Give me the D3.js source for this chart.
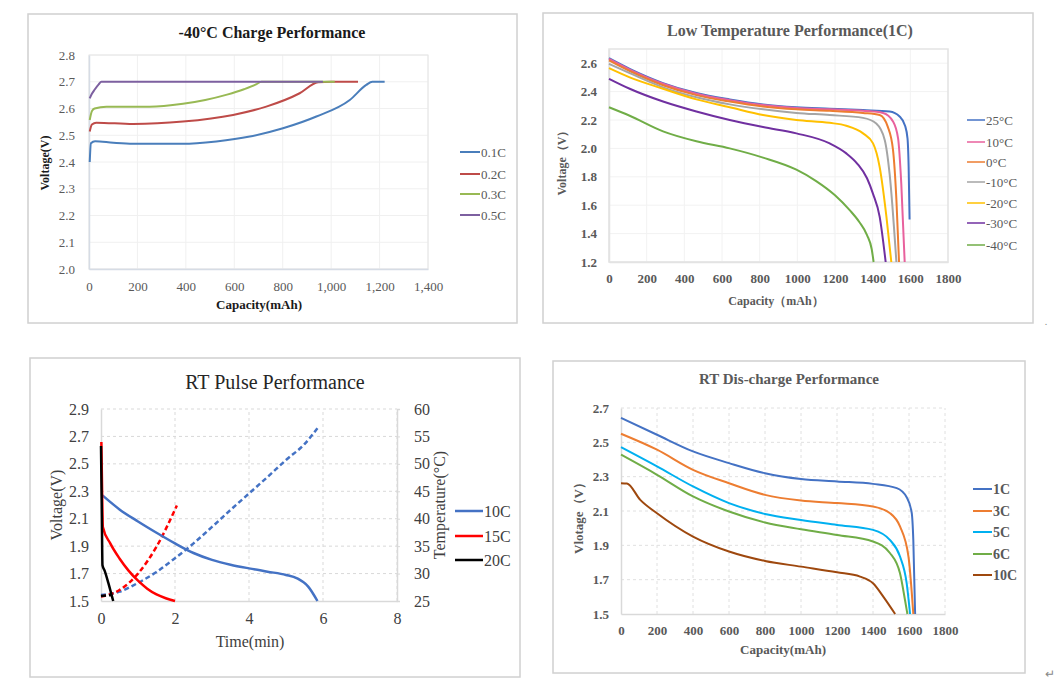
<!DOCTYPE html>
<html><head><meta charset="utf-8">
<script src="https://cdn.jsdelivr.net/npm/d3@7"></script>
<style>
html,body{margin:0;padding:0;background:#fff;}
svg{display:block;font-family:"Liberation Serif","Times New Roman",serif;}
</style></head>
<body>
<svg id="chart" width="1060" height="691"></svg>
<script>
// ---------- Panel 1: -40°C Charge Performance ----------
const p1Names = ["0.1C","0.2C","0.3C","0.5C"];
const p1Colors = ["#4a7ebb","#be4b48","#98b954","#7d60a0"];
const p1XTicks = [0,200,400,600,800,1000,1200,1400];
const p1YTicks = [2.0,2.1,2.2,2.3,2.4,2.5,2.6,2.7,2.8];
const charge01C = [[3,2.40],[8,2.47],[25,2.478],[100,2.472],[182,2.468],[388,2.468],[526,2.477],[664,2.495],[801,2.526],[939,2.57],[1077,2.632],[1145,2.688],[1170,2.70],[1221,2.70]];
const charge02C = [[3,2.514],[12,2.54],[30,2.547],[182,2.542],[388,2.551],[595,2.576],[732,2.607],[870,2.657],[946,2.698],[1000,2.70],[1111,2.70]];
const charge03C = [[3,2.557],[12,2.59],[23,2.60],[72,2.607],[250,2.607],[388,2.618],[480,2.632],[570,2.652],[640,2.672],[690,2.69],[712,2.70],[850,2.70],[1015,2.70]];
const charge05C = [[3,2.638],[12,2.655],[23,2.67],[40,2.69],[51,2.70],[300,2.70],[966,2.70]];
const p1Series = [charge01C,charge02C,charge03C,charge05C];

// ---------- Panel 2: Low Temperature Performance(1C) ----------
const p2Names = ["25°C","10°C","0°C","-10°C","-20°C","-30°C","-40°C"];
const p2Colors = ["#4472c4","#e8619d","#ed7d31","#a5a5a5","#ffc000","#7030a0","#70ad47"];
const p2XTicks = [0,200,400,600,800,1000,1200,1400,1600,1800];
const p2YTicks = [1.2,1.4,1.6,1.8,2.0,2.2,2.4,2.6];
const lt25 = [[0,2.635],[110,2.56],[287,2.46],[464,2.39],[641,2.345],[818,2.31],[995,2.29],[1172,2.28],[1349,2.27],[1490,2.26],[1543,2.225],[1572,2.16],[1585,2.07],[1591,1.87],[1596,1.5]];
const lt10 = [[0,2.63],[110,2.555],[287,2.455],[464,2.385],[641,2.34],[818,2.305],[995,2.285],[1172,2.275],[1349,2.265],[1455,2.25],[1508,2.19],[1535,2.07],[1552,1.75],[1570,1.2]];
const lt0 = [[0,2.62],[110,2.545],[287,2.445],[464,2.375],[641,2.33],[818,2.295],[995,2.275],[1172,2.265],[1349,2.25],[1437,2.235],[1481,2.15],[1508,1.99],[1526,1.64],[1540,1.2]];
const ltm10 = [[0,2.595],[110,2.53],[287,2.43],[464,2.36],[641,2.31],[818,2.275],[995,2.25],[1172,2.235],[1349,2.215],[1419,2.175],[1464,2.06],[1490,1.82],[1526,1.2]];
const ltm20 = [[0,2.565],[110,2.50],[287,2.42],[464,2.345],[641,2.29],[818,2.235],[995,2.2],[1172,2.18],[1260,2.16],[1349,2.106],[1402,2.035],[1437,1.87],[1473,1.52],[1499,1.2]];
const ltm30 = [[0,2.49],[110,2.42],[287,2.33],[464,2.26],[641,2.2],[818,2.15],[995,2.106],[1172,2.035],[1260,1.965],[1320,1.89],[1370,1.79],[1402,1.68],[1437,1.52],[1469,1.2]];
const ltm40 = [[0,2.29],[110,2.23],[287,2.12],[464,2.05],[641,2.0],[818,1.935],[995,1.85],[1100,1.77],[1200,1.67],[1278,1.565],[1330,1.48],[1370,1.39],[1395,1.29],[1405,1.2]];
const p2Series = [lt25,lt10,lt0,ltm10,ltm20,ltm30,ltm40];

// ---------- Panel 3: RT Pulse Performance ----------
const p3Names = ["10C","15C","20C"];
const p3Colors = ["#4472c4","#ff0000","#000000"];
const p3XTicks = [0,2,4,6,8];
const p3YTicks = [1.5,1.7,1.9,2.1,2.3,2.5,2.7,2.9];
const p3RTicks = [25,30,35,40,45,50,55,60];
const pulse10CV = [[0.04,2.27],[0.5,2.168],[1,2.08],[1.5,1.998],[2,1.92],[2.5,1.85],[3,1.80],[3.5,1.765],[4,1.738],[4.5,1.714],[5,1.69],[5.3,1.665],[5.6,1.605],[5.85,1.5]];
const pulse15CV = [[0.01,2.66],[0.03,2.3],[0.05,2.04],[0.25,1.92],[0.5,1.81],[0.75,1.72],[1,1.648],[1.25,1.59],[1.5,1.548],[1.75,1.52],[2.0,1.5]];
const pulse20CV = [[0.0,2.63],[0.02,2.2],[0.04,1.76],[0.1,1.72],[0.2,1.63],[0.3,1.53],[0.33,1.5]];
const pulse10CT = [[0,26.1],[0.5,26.7],[1,28.3],[1.5,30.3],[2,32.8],[2.5,35.5],[3,38.5],[3.5,41.6],[4,44.6],[4.5,47.6],[5,50.7],[5.5,53.6],[5.85,56.5]];
const pulse15CT = [[0,25.8],[0.5,27.0],[1,30.0],[1.5,34.9],[2.05,42.4]];
const pulse20CT = [[0,25.9],[0.15,26.0],[0.3,26.1]];
const p3VSeries = [pulse10CV,pulse15CV,pulse20CV];
const p3TSeries = [pulse10CT,pulse15CT,pulse20CT];

// ---------- Panel 4: RT Dis-charge Performance ----------
const p4Names = ["1C","3C","5C","6C","10C"];
const p4Colors = ["#4472c4","#ed7d31","#00b0f0","#70ad47","#9e480e"];
const p4XTicks = [0,200,400,600,800,1000,1200,1400,1600,1800];
const p4YTicks = [1.5,1.7,1.9,2.1,2.3,2.5,2.7];
const rt1C = [[0,2.642],[200,2.544],[400,2.447],[600,2.379],[800,2.32],[1000,2.286],[1200,2.272],[1400,2.258],[1532,2.233],[1587,2.18],[1615,2.09],[1624,1.93],[1634,1.5]];
const rt3C = [[0,2.55],[200,2.457],[400,2.34],[600,2.262],[800,2.194],[1000,2.161],[1200,2.146],[1400,2.126],[1495,2.087],[1550,2.01],[1597,1.835],[1624,1.5]];
const rt5C = [[0,2.472],[200,2.36],[400,2.243],[600,2.146],[800,2.083],[1000,2.048],[1200,2.019],[1400,1.99],[1495,1.93],[1550,1.835],[1587,1.68],[1606,1.5]];
const rt6C = [[0,2.428],[200,2.311],[400,2.185],[600,2.097],[800,2.033],[1000,1.994],[1200,1.96],[1400,1.922],[1495,1.854],[1550,1.737],[1578,1.58],[1591,1.5]];
const rt10C = [[0,2.262],[33,2.26],[107,2.165],[200,2.087],[400,1.951],[600,1.864],[800,1.809],[1000,1.776],[1200,1.743],[1328,1.718],[1400,1.679],[1458,1.60],[1523,1.5]];
const p4Series = [rt1C,rt3C,rt5C,rt6C,rt10C];

// ================= drawing =================
const svg = d3.select("#chart");
const GRAY = "#595959";

function box(x0,y0,x1,y1){
  svg.append("rect").attr("x",x0).attr("y",y0).attr("width",x1-x0).attr("height",y1-y0)
    .attr("fill","#fff").attr("stroke","#d0d0d0").attr("stroke-width",1.5);
}
function text(x,y,s,opts){
  const t = svg.append("text").attr("x",x).attr("y",y).text(s)
    .attr("font-family","Liberation Serif, serif")
    .attr("font-size",opts.size||13).attr("fill",opts.color||GRAY)
    .attr("font-weight",opts.bold?"bold":"normal")
    .attr("text-anchor",opts.anchor||"middle");
  if(opts.rotate) t.attr("transform",`rotate(-90,${x},${y})`);
  return t;
}
function grid(x,y,xt,yt,style){
  const g = svg.append("g");
  g.selectAll(".gx").data(xt).join("line")
    .attr("x1",d=>x(d)).attr("x2",d=>x(d)).attr("y1",y.range()[0]).attr("y2",y.range()[1])
    .attr("stroke",style.color).attr("stroke-width",1).attr("stroke-dasharray",style.dash||null);
  g.selectAll(".gy").data(yt).join("line")
    .attr("y1",d=>y(d)).attr("y2",d=>y(d)).attr("x1",x.range()[0]).attr("x2",x.range()[1])
    .attr("stroke",style.color).attr("stroke-width",1).attr("stroke-dasharray",style.dash||null);
}
function axes(x,y,xt,yt,fmtX,fmtY,o){
  const gx = svg.append("g").attr("transform",`translate(0,${y.range()[0]})`)
    .call(d3.axisBottom(x).tickValues(xt).tickFormat(fmtX).tickSize(0).tickPadding(o.padX));
  const gy = svg.append("g").attr("transform",`translate(${x.range()[0]},0)`)
    .call(d3.axisLeft(y).tickValues(yt).tickFormat(fmtY).tickSize(0).tickPadding(o.padY));
  [gx,gy].forEach(g=>{
    g.attr("font-family","Liberation Serif, serif");
    g.select(".domain").attr("stroke",o.axisColor).attr("stroke-width",1.5);
    g.selectAll("text").attr("font-family","Liberation Serif, serif").attr("font-size",o.size)
      .attr("fill",o.color).attr("font-weight",o.bold?"bold":"normal");
  });
}
function lines(x,y,series,colors,w,dash){
  const line = d3.line().x(d=>x(d[0])).y(d=>y(d[1])).curve(d3.curveMonotoneX);
  svg.append("g").selectAll("path").data(series).join("path")
    .attr("d",line).attr("fill","none").attr("stroke",(d,i)=>colors[i])
    .attr("stroke-width",w).attr("stroke-dasharray",dash||null).attr("stroke-linejoin","round");
}
function legend(names,colors,x0,x1,ys,o){
  names.forEach((n,i)=>{
    svg.append("line").attr("x1",x0).attr("x2",x1).attr("y1",ys[i]).attr("y2",ys[i])
      .attr("stroke",colors[i]).attr("stroke-width",o.w);
    text(x1+1,ys[i]+o.size*0.35,n,{size:o.size,color:o.color,bold:o.bold,anchor:"start"});
  });
}

// ---- Panel 1 ----
box(28,14,517,323);
const x1 = d3.scaleLinear().domain([0,1400]).range([89,428]);
const y1 = d3.scaleLinear().domain([2.0,2.8]).range([269,55]);
grid(x1,y1,p1XTicks,p1YTicks,{color:"#f0f0f0"});
svg.append("rect").attr("x",89).attr("y",55).attr("width",339).attr("height",214).attr("fill","none").attr("stroke","#e6e6e6");
axes(x1,y1,p1XTicks,p1YTicks,d3.format(",d"),d3.format(".1f"),{padX:13,padY:14,size:13,color:GRAY,bold:false,axisColor:"#d6dce5"});
lines(x1,y1,p1Series,p1Colors,2);
text(272,38,"-40°C Charge Performance",{size:16,bold:true,color:"#1a1a1a"});
text(49,163,"Voltage(V)",{size:12,bold:true,color:"#1a1a1a",rotate:true});
text(259,309,"Capacity(mAh)",{size:13,bold:true,color:"#1a1a1a"});
legend(p1Names,p1Colors,460,480,[152,174,194,215],{size:13,color:GRAY,w:2});

// ---- Panel 2 ----
box(543,13,1033,323);
const x2 = d3.scaleLinear().domain([0,1800]).range([609,948]);
const y2 = d3.scaleLinear().domain([1.2,2.7]).range([262,49]);
grid(x2,y2,p2XTicks,p2YTicks,{color:"#f2f2f2"});
svg.append("rect").attr("x",609).attr("y",49).attr("width",339).attr("height",213).attr("fill","none").attr("stroke","#e3e3e3").attr("stroke-width",1.5);
axes(x2,y2,p2XTicks,p2YTicks,d3.format("d"),d3.format(".1f"),{padX:12,padY:12,size:13,color:GRAY,bold:true,axisColor:"#e3e3e3"});
lines(x2,y2,p2Series,p2Colors,2);
text(790,36,"Low Temperature Performance(1C)",{size:16,bold:true,color:GRAY});
text(566,160,"Voltage（V）",{size:12,bold:true,color:GRAY,rotate:true});
text(776,305,"Capacity（mAh）",{size:12,bold:true,color:GRAY});
legend(p2Names,p2Colors,967,985,[120,142,162,182,203,223,245],{size:13,color:GRAY,w:1.5});
text(1046,325,".",{size:10,color:"#888"});

// ---- Panel 3 ----
box(30,358,520,677);
const x3 = d3.scaleLinear().domain([0,8]).range([101,397]);
const y3 = d3.scaleLinear().domain([1.5,2.9]).range([601,409]);
const y3r = d3.scaleLinear().domain([25,60]).range([601,409]);
grid(x3,y3,p3XTicks.slice(1),p3YTicks.slice(1),{color:"#d9d9d9",dash:"3,3"});
axes(x3,y3,p3XTicks,p3YTicks,d3.format("d"),d3.format(".1f"),{padX:12,padY:12,size:16,color:"#404040",bold:false,axisColor:"#d9d9d9"});
const gr = svg.append("g").attr("transform","translate(397,0)")
  .call(d3.axisRight(y3r).tickValues(p3RTicks).tickFormat(d3.format("d")).tickSize(3).tickPadding(14));
gr.select(".domain").attr("stroke","#d9d9d9").attr("stroke-width",1.5);
gr.selectAll(".tick line").attr("stroke","#d9d9d9");
gr.selectAll("text").attr("font-family","Liberation Serif, serif").attr("font-size",16).attr("fill","#404040");
lines(x3,y3r,p3TSeries,p3Colors,2.5,"5,3");
lines(x3,y3,p3VSeries,p3Colors,2.5);
text(275,389,"RT Pulse Performance",{size:20,color:"#262626"});
text(62,505,"Voltage(V)",{size:16,color:"#404040",rotate:true});
text(445,505,"Temperature(°C)",{size:16,color:"#404040",rotate:true});
text(250,647,"Time(min)",{size:16,color:"#404040"});
legend(p3Names,p3Colors,455,483,[511,536,560],{size:16,color:"#404040",w:2.5});

// ---- Panel 4 ----
box(553,361,1025,673);
const x4 = d3.scaleLinear().domain([0,1800]).range([621,945]);
const y4 = d3.scaleLinear().domain([1.5,2.7]).range([614,408]);
grid(x4,y4,p4XTicks.slice(1),p4YTicks.slice(1),{color:"#e0e0e0",dash:"3,3"});
axes(x4,y4,p4XTicks,p4YTicks,d3.format("d"),d3.format(".1f"),{padX:12,padY:12,size:13,color:GRAY,bold:true,axisColor:"#d9d9d9"});
lines(x4,y4,p4Series,p4Colors,2);
text(789,384,"RT Dis-charge Performance",{size:15,bold:true,color:GRAY});
text(583,515,"Vlotage（V）",{size:13,bold:true,color:GRAY,rotate:true});
text(783,654,"Capacity(mAh)",{size:13,bold:true,color:GRAY});
legend(p4Names,p4Colors,973,992,[489,511,532,554,575],{size:14,color:GRAY,bold:true,w:2});
text(1050,678,"↵",{size:12,color:"#888"});
</script>
</body></html>
